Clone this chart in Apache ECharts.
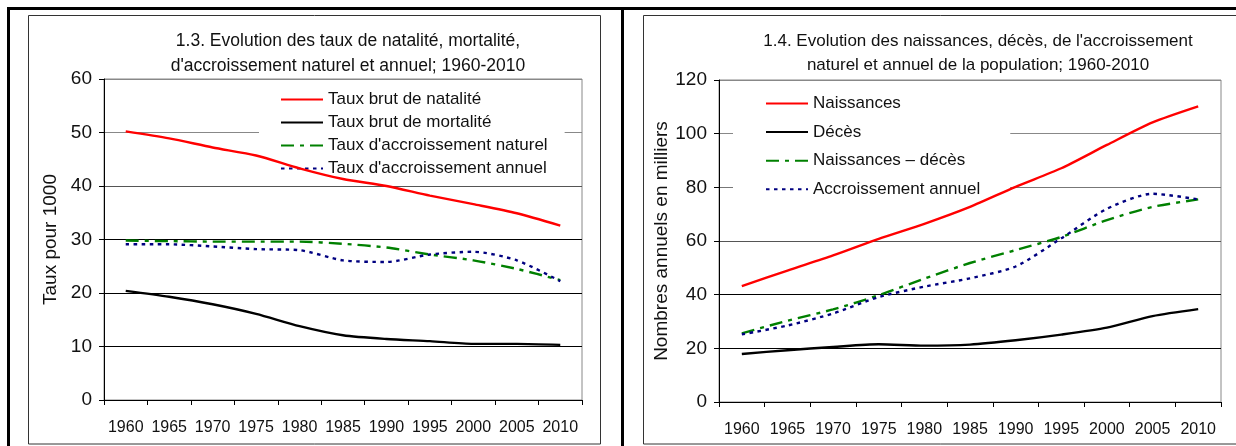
<!DOCTYPE html>
<html>
<head>
<meta charset="utf-8">
<script src="https://cdn.jsdelivr.net/npm/echarts@6/dist/echarts.min.js"></script>
<style>
  html, body { margin: 0; padding: 0; background: #fff; }
  #chart { width: 1236px; height: 446px; }
</style>
</head>
<body>
<div id="chart"></div>
<script>
var years = ['1960', '1965', '1970', '1975', '1980', '1985', '1990', '1995', '2000', '2005', '2010'];

// 1.3 taux pour 1000
var natalite = [50.2, 48.9, 47.2, 45.7, 43.3, 41.3, 40.0, 38.2, 36.6, 34.9, 32.6];
var mortalite = [20.4, 19.3, 17.9, 16.1, 13.8, 12.1, 11.4, 11.0, 10.5, 10.5, 10.3];
var accrNaturel = [29.8, 29.7, 29.6, 29.6, 29.6, 29.2, 28.5, 27.2, 26.1, 24.5, 22.4];
var accrAnnuel = [29.1, 29.1, 28.7, 28.2, 28.0, 26.1, 25.8, 27.2, 27.7, 26.1, 22.2];

// 1.4 nombres annuels en milliers
var naissances = [43.2, 49.0, 54.6, 60.8, 66.4, 72.7, 80.2, 87.1, 95.8, 104.2, 110.2];
var deces = [17.9, 19.3, 20.5, 21.5, 21.0, 21.4, 23.0, 25.1, 27.7, 32.0, 34.6];
var naissMoinsDeces = [25.6, 30.3, 34.5, 39.8, 46.0, 51.8, 56.6, 61.5, 67.8, 72.7, 75.5];
var accroissementAnnuel = [25.2, 28.5, 33.0, 39.1, 43.0, 46.1, 50.5, 61.0, 72.0, 77.6, 75.5];

var font = "'Liberation Sans', Arial, sans-serif";
var dashDot = [13, 6, 4, 6];
var dotted = [3.5, 4.5];

function yAxis(idx, max, name, gridColors, gap) {
    return {
        gridIndex: idx,
        type: 'value',
        min: 0,
        max: max,
        interval: 20 * (max / 120),
        name: name,
        nameLocation: 'middle',
        nameGap: gap,
        nameTextStyle: { fontFamily: font, fontSize: 19, color: '#111' },
        axisLine: { show: true, lineStyle: { color: '#000', width: 1 } },
        axisTick: { show: true, length: 5, lineStyle: { color: '#000' } },
        axisLabel: { fontFamily: font, fontSize: 19, color: '#111', margin: 12 },
        splitLine: { show: true, lineStyle: { color: gridColors, width: 1 } }
    };
}

function xAxis(idx) {
    return {
        gridIndex: idx,
        type: 'category',
        data: years,
        boundaryGap: true,
        axisLine: { lineStyle: { color: '#000', width: 1 } },
        axisTick: { show: true, length: 5, interval: 0, lineStyle: { color: '#000' } },
        axisLabel: { fontFamily: font, fontSize: 16, color: '#111', margin: 20, interval: 0 },
        splitLine: { show: false }
    };
}

function line(name, data, idx, color, type) {
    return {
        name: name,
        type: 'line',
        xAxisIndex: idx,
        yAxisIndex: idx,
        data: data,
        smooth: 0.25,
        symbol: 'none',
        lineStyle: { color: color, width: 2.4, type: type, cap: 'butt' },
        itemStyle: { color: color }
    };
}

var legendCommon = {
    orient: 'vertical',
    backgroundColor: '#fff',
    z: 1,
    itemWidth: 42,
    itemHeight: 18,
    itemGap: 6,
    itemStyle: { opacity: 0 },
    textStyle: { fontFamily: font, fontSize: 17, color: '#111' }
};

var chart = echarts.init(document.getElementById('chart'));
var option = {
    animation: false,
    backgroundColor: '#fff',
    title: [{
        text: '1.3. Evolution des taux de natalité, mortalité,\nd\'accroissement naturel et annuel; 1960-2010',
        left: 343,
        textAlign: 'center',
        top: 24,
        textStyle: { fontFamily: font, fontSize: 17.5, fontWeight: 'normal', color: '#111', lineHeight: 25 }
    }, {
        text: '1.4. Evolution des naissances, décès, de l\'accroissement\nnaturel et annuel de la population; 1960-2010',
        left: 973,
        textAlign: 'center',
        top: 24,
        textStyle: { fontFamily: font, fontSize: 17, fontWeight: 'normal', color: '#111', lineHeight: 24 }
    }],
    legend: [
        Object.assign({}, legendCommon, {
            data: ['Taux brut de natalité', 'Taux brut de mortalité', 'Taux d\'accroissement naturel', 'Taux d\'accroissement annuel'],
            left: 259,
            top: 85,
            padding: [6, 17, 3, 21]
        }),
        Object.assign({}, legendCommon, {
            data: ['Naissances', 'Décès', 'Naissances – décès', 'Accroissement annuel'],
            left: 733,
            top: 87,
            itemGap: 11.6,
            padding: [8, 30, 8, 32]
        })
    ],
    grid: [
        { left: 104, top: 79, width: 478, height: 321, show: true, borderColor: '#888', borderWidth: 1 },
        { left: 719, top: 80, width: 502, height: 322, show: true, borderColor: '#888', borderWidth: 1 }
    ],
    xAxis: [xAxis(0), xAxis(1)],
    yAxis: [
        yAxis(0, 60, 'Taux pour 1000', ['#000', '#000', '#000', '#000', '#555', '#888', '#888'], 44),
        yAxis(1, 120, 'Nombres annuels en milliers', ['#000', '#000', '#000', '#555', '#777', '#888', '#888'], 46)
    ],
    series: [
        line('Taux brut de natalité', natalite, 0, '#ff0000', 'solid'),
        line('Taux brut de mortalité', mortalite, 0, '#000000', 'solid'),
        line('Taux d\'accroissement naturel', accrNaturel, 0, '#008000', dashDot),
        line('Taux d\'accroissement annuel', accrAnnuel, 0, '#000080', dotted),
        line('Naissances', naissances, 1, '#ff0000', 'solid'),
        line('Décès', deces, 1, '#000000', 'solid'),
        line('Naissances – décès', naissMoinsDeces, 1, '#008000', dashDot),
        line('Accroissement annuel', accroissementAnnuel, 1, '#000080', dotted)
    ],
    graphic: [
        { type: 'rect', silent: true, shape: { x: 28.5, y: 15.5, width: 572, height: 428.5 }, style: { fill: 'none', stroke: '#333', lineWidth: 1 } },
        { type: 'rect', silent: true, shape: { x: 643.5, y: 15.5, width: 620, height: 428.5 }, style: { fill: 'none', stroke: '#333', lineWidth: 1 } },
        { type: 'line', silent: true, shape: { x1: 7, y1: 8.5, x2: 1236, y2: 8.5 }, style: { stroke: '#000', lineWidth: 3 } },
        { type: 'line', silent: true, shape: { x1: 8.5, y1: 7, x2: 8.5, y2: 446 }, style: { stroke: '#000', lineWidth: 3 } },
        { type: 'line', silent: true, shape: { x1: 622.5, y1: 7, x2: 622.5, y2: 446 }, style: { stroke: '#000', lineWidth: 3 } }
    ]
};
chart.setOption(option);
</script>
</body>
</html>
